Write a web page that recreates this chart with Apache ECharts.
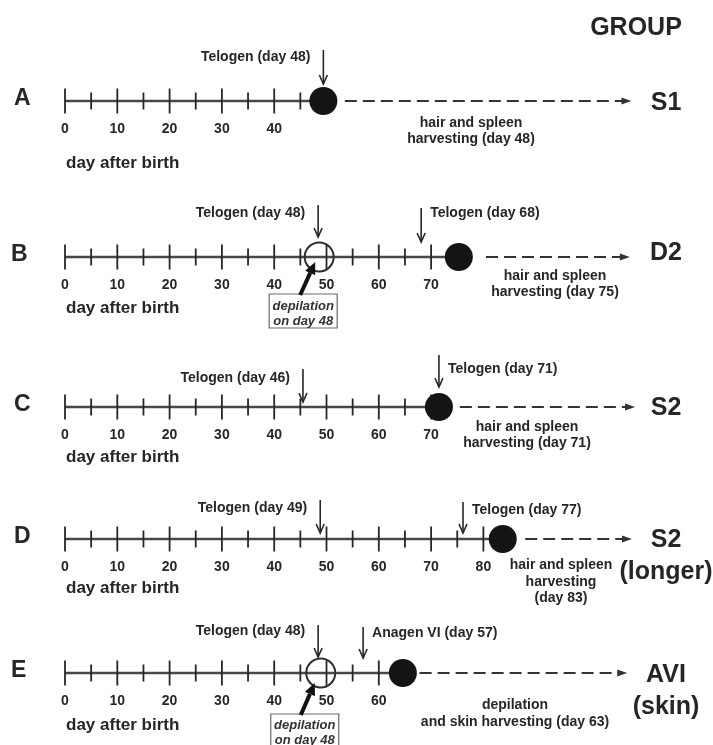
<!DOCTYPE html>
<html><head><meta charset="utf-8">
<script src="https://cdn.jsdelivr.net/npm/echarts@6/dist/echarts.min.js"></script>
<style>html,body{margin:0;padding:0;background:#fff}#c{width:713px;height:745px}</style>
</head><body><div id="c"></div>
<script>
// ---------------- data ----------------
const rowLetters = ['A', 'B', 'C', 'D', 'E'];
const groupNames = ['S1', 'D2', 'S2', 'S2\n(longer)', 'AVI\n(skin)'];
const tickLabelDays = [
  [0, 10, 20, 30, 40],
  [0, 10, 20, 30, 40, 50, 60, 70],
  [0, 10, 20, 30, 40, 50, 60, 70],
  [0, 10, 20, 30, 40, 50, 60, 70, 80],
  [0, 10, 20, 30, 40, 50, 60]
];
const lastTickDay = [45, 70, 70, 80, 60];
const harvestMarkDay = [49.4, 75.3, 71.5, 83.7, 64.6];   // filled circle, as drawn
const depilationMarkDay = [null, 48.6, null, null, 48.9]; // open circle, as drawn
const eventDays = [[49.4], [48.4, 68.1], [45.5, 71.5], [48.8, 76.1], [48.4, 57.0]];
const eventLabels = [
  ['Telogen (day 48)'],
  ['Telogen (day 48)', 'Telogen (day 68)'],
  ['Telogen (day 46)', 'Telogen (day 71)'],
  ['Telogen (day 49)', 'Telogen (day 77)'],
  ['Telogen (day 48)', 'Anagen VI (day 57)']
];
const dashStartDay = [53.5, 80.5, 75.5, 88.0, 67.8];
const dashEndDay = [108.3, 108.0, 109.0, 108.4, 107.5];
const harvestTexts = [
  'hair and spleen\nharvesting (day 48)',
  'hair and spleen\nharvesting (day 75)',
  'hair and spleen\nharvesting (day 71)',
  'hair and spleen\nharvesting\n(day 83)',
  'depilation\nand skin harvesting (day 63)'
];
const depilationText = ['depilation', 'on day 48'];
const axisTitle = 'day after birth';
const headerText = 'GROUP';

// ---------------- layout ----------------
const FONT = '"Liberation Sans", Arial, Helvetica, sans-serif';
const INK = '#262626';
const L = {
  left: 65, dayPx: 5.23, dayMax: 120,
  axisY: [101, 257, 407, 539, 673],
  arrowTop: [[51], [52, 49], [38, 52], [39, 37], [48, 46]],
  arrowBottom: [[17], [20, 15], [5, 20], [6, 6], [16, 15]],
  labelDy: [[44], [44, 44], [29, 38], [31, 29], [42, 40]],
  labelSide: [['l'], ['l', 'r'], ['l', 'r'], ['l', 'r'], ['l', 'r']],
  depBoxTop: [null, 37, null, null, 41],
  depText1: [null, 49, null, null, 52],
  depTail: [null, [-19, 38], null, null, [-20, 42]],
  depTip: [null, [-4, 5], null, null, [-6, 10]],
  letterX: [14, 11, 14, 14, 11], letterDy: -2,
  groupX: 666, groupY: [103, 253, 408, 556, 691], groupLH: 32,
  titleY: [163, 308, 457, 588, 725],
  harvestX: [471, 555, 527, 561, 515], harvestY: [131, 284, 435, 582, 713.5]
};

// ---------------- build row elements ----------------
const rowEls = rowLetters.map((_, r) => {
  const els = [];
  els.push({ kind: 'axis', x: 0, x2: harvestMarkDay[r] });
  tickLabelDays[r].forEach(d => {
    els.push({ kind: 'tick', x: d, major: true });
    if (d + 5 <= lastTickDay[r]) els.push({ kind: 'tick', x: d + 5, major: false });
  });
  els.push({ kind: 'dash', x: dashStartDay[r], x2: dashEndDay[r] });
  if (depilationMarkDay[r] != null) els.push({ kind: 'ring', x: depilationMarkDay[r] });
  els.push({ kind: 'dot', x: harvestMarkDay[r] });
  eventDays[r].forEach((d, i) => els.push({
    kind: 'down', x: d, label: eventLabels[r][i],
    top: L.arrowTop[r][i], bottom: L.arrowBottom[r][i],
    dy: L.labelDy[r][i], side: L.labelSide[r][i]
  }));
  if (depilationMarkDay[r] != null) els.push({ kind: 'dep', x: depilationMarkDay[r], r: r });
  return els;
});

function arrowHead(tx, ty, fx, fy, len, half) {
  const dx = tx - fx, dy = ty - fy, n = Math.hypot(dx, dy);
  const ux = dx / n, uy = dy / n;
  const bx = tx - ux * len, by = ty - uy * len;
  return [[tx, ty], [bx - uy * half, by + ux * half], [bx + uy * half, by - ux * half]];
}

function renderer(r) {
  return function (params, api) {
    const el = rowEls[r][params.dataIndex];
    const p = api.coord([el.x, 0]);
    const x = p[0], y = p[1];
    if (el.kind === 'axis') {
      const q = api.coord([el.x2, 0]);
      return { type: 'line', shape: { x1: x, y1: y, x2: q[0], y2: y }, style: { stroke: '#474747', lineWidth: 2.6 } };
    }
    if (el.kind === 'tick') {
      const h = el.major ? 12.5 : 8.5;
      return { type: 'line', shape: { x1: x, y1: y - h, x2: x, y2: y + h }, style: { stroke: INK, lineWidth: 1.8 } };
    }
    if (el.kind === 'dash') {
      const q = api.coord([el.x2, 0]);
      return { type: 'group', children: [
        { type: 'line', shape: { x1: x, y1: y, x2: q[0] - 8, y2: y }, style: { stroke: '#333', lineWidth: 2, lineDash: [12, 6] } },
        { type: 'polygon', shape: { points: [[q[0], y], [q[0] - 10, y - 3.6], [q[0] - 10, y + 3.6]] }, style: { fill: '#333' } }
      ] };
    }
    if (el.kind === 'ring') {
      return { type: 'circle', shape: { cx: x, cy: y, r: 14.5 }, style: { fill: 'none', stroke: '#2e2e2e', lineWidth: 2 } };
    }
    if (el.kind === 'dot') {
      return { type: 'circle', shape: { cx: x, cy: y, r: 14 }, style: { fill: '#141414' } };
    }
    if (el.kind === 'down') {
      const yt = y - el.top, yb = y - el.bottom;
      const left = el.side === 'l';
      return { type: 'group', children: [
        { type: 'line', shape: { x1: x, y1: yt, x2: x, y2: yb }, style: { stroke: INK, lineWidth: 1.6 } },
        { type: 'polyline', shape: { points: [[x - 4, yb - 9], [x, yb], [x + 4, yb - 9]] }, style: { stroke: INK, lineWidth: 1.6, fill: 'none' } },
        { type: 'text', style: { text: el.label, x: left ? x - 13 : x + 9, y: y - el.dy, align: left ? 'right' : 'left', verticalAlign: 'middle',
          font: 'bold 14px ' + FONT, fill: INK } }
      ] };
    }
    if (el.kind === 'dep') {
      const rr = el.r;
      const cx = x - 16, top = y + L.depBoxTop[rr];
      const tail = [x + L.depTail[rr][0], y + L.depTail[rr][1]];
      const tip = [x + L.depTip[rr][0], y + L.depTip[rr][1]];
      const head = arrowHead(tip[0], tip[1], tail[0], tail[1], 12, 5.5);
      const mid = [(head[1][0] + head[2][0]) / 2, (head[1][1] + head[2][1]) / 2];
      return { type: 'group', children: [
        { type: 'rect', shape: { x: cx - 34, y: top, width: 68, height: 34 }, style: { fill: '#fff', stroke: '#6a6a6a', lineWidth: 1.2 } },
        { type: 'text', style: { text: depilationText[0], x: cx, y: y + L.depText1[rr], align: 'center', verticalAlign: 'middle', font: 'italic bold 13px ' + FONT, fill: '#333' } },
        { type: 'text', style: { text: depilationText[1], x: cx, y: y + L.depText1[rr] + 15, align: 'center', verticalAlign: 'middle', font: 'italic bold 13px ' + FONT, fill: '#333' } },
        { type: 'line', shape: { x1: tail[0], y1: tail[1], x2: mid[0], y2: mid[1] }, style: { stroke: '#111', lineWidth: 4 } },
        { type: 'polygon', shape: { points: head }, style: { fill: '#111' } }
      ] };
    }
    return null;
  };
}

// ---------------- option ----------------
const grids = [], xAxes = [], yAxes = [], series = [];
rowLetters.forEach((_, r) => {
  grids.push({ left: L.left, width: L.dayPx * L.dayMax, top: L.axisY[r] - 60, height: 60 });
  xAxes.push({
    gridIndex: r, type: 'value', min: 0, max: L.dayMax, interval: 10, position: 'bottom',
    axisLine: { show: false, onZero: false }, axisTick: { show: false }, splitLine: { show: false },
    axisLabel: {
      margin: 21, fontSize: 14, fontWeight: 'bold', fontFamily: FONT, color: INK,
      formatter: v => tickLabelDays[r].indexOf(v) >= 0 ? String(v) : ''
    }
  });
  yAxes.push({ gridIndex: r, type: 'value', min: 0, max: 60, show: false });
  series.push({
    type: 'custom', xAxisIndex: r, yAxisIndex: r, clip: false, silent: true,
    renderItem: renderer(r),
    data: rowEls[r].map(e => [e.x, 0])
  });
});

const graphic = [];
graphic.push({ type: 'text', style: { text: headerText, x: 636, y: 28, align: 'center', verticalAlign: 'middle', font: 'bold 25px ' + FONT, fill: INK } });
rowLetters.forEach((t, r) => {
  graphic.push({ type: 'text', style: { text: t, x: L.letterX[r], y: L.axisY[r] + L.letterDy, align: 'left', verticalAlign: 'middle', font: 'bold 23px ' + FONT, fill: INK } });
  graphic.push({ type: 'text', style: { text: groupNames[r], x: L.groupX, y: L.groupY[r], align: 'center', verticalAlign: 'middle', lineHeight: L.groupLH, font: 'bold 25px ' + FONT, fill: INK } });
  graphic.push({ type: 'text', style: { text: axisTitle, x: 66, y: L.titleY[r], align: 'left', verticalAlign: 'middle', font: 'bold 17px ' + FONT, fill: INK } });
  graphic.push({ type: 'text', style: { text: harvestTexts[r], x: L.harvestX[r], y: L.harvestY[r], align: 'center', verticalAlign: 'middle', lineHeight: 16.5, font: 'bold 14px ' + FONT, fill: INK } });
});

const chart = echarts.init(document.getElementById('c'), null, { renderer: 'canvas' });
chart.setOption({
  animation: false,
  backgroundColor: '#fff',
  grid: grids, xAxis: xAxes, yAxis: yAxes, series: series, graphic: graphic
});
</script>
</body></html>
